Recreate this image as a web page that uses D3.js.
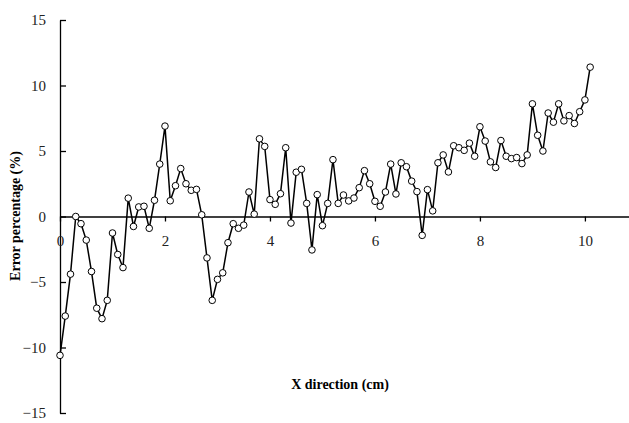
<!DOCTYPE html>
<html><head><meta charset="utf-8">
<script src="https://cdn.jsdelivr.net/npm/d3@7"></script>
<style>body{margin:0;background:#fff}text{font-family:"Liberation Serif","Times New Roman",serif}</style>
</head><body><svg id="c" width="629" height="423"></svg>
<script>
const xStart = 0, xStep = 0.1;
const errorPct = [
  -10.6, -7.6, -4.4, 0, -0.55, -1.8, -4.2, -7.0, -7.8, -6.4,
  -1.26, -2.9, -3.9, 1.4, -0.76, 0.73, 0.78, -0.9, 1.24, 4.0,
  6.9, 1.2, 2.35, 3.66, 2.5, 2.0, 2.07, 0.13, -3.16, -6.4,
  -4.8, -4.3, -2.0, -0.55, -0.9, -0.66, 1.87, 0.18, 5.93, 5.35,
  1.29, 0.93, 1.74, 5.25, -0.5, 3.38, 3.6, 1.0, -2.55, 1.67,
  -0.7, 1.0, 4.34, 1.0, 1.64, 1.19, 1.41, 2.2, 3.5, 2.5,
  1.16, 0.78, 1.87, 4.0, 1.72, 4.1, 3.8, 2.7, 1.9, -1.44,
  2.05, 0.43, 4.1, 4.7, 3.4, 5.4, 5.25, 5.05, 5.6, 4.6,
  6.85, 5.76, 4.17, 3.74, 5.8, 4.6, 4.42, 4.5, 4.04, 4.7,
  8.6, 6.2, 5.0, 7.9, 7.2, 8.6, 7.3, 7.7, 7.1, 8.0,
  8.9, 11.4
];
const xTicks = [0, 2, 4, 6, 8, 10];
const yTicks = [-15, -10, -5, 0, 5, 10, 15];
const data = errorPct.map((v, i) => ({x: +(xStart + i * xStep).toFixed(2), y: v}));

const svg = d3.select('#c');
const x = d3.scaleLinear().domain([0, 10.84]).range([60, 629]);
const y = d3.scaleLinear().domain([-15, 15]).range([413, 20]);

// y axis, ticks point inward
svg.append('g')
  .attr('transform', 'translate(60,0)')
  .call(d3.axisLeft(y).tickValues(yTicks).tickSizeInner(-6).tickSizeOuter(0).tickPadding(14))
  .call(g => g.selectAll('text').attr('font-size', 15).attr('fill', '#222'))
  .call(g => g.selectAll('line,path').attr('stroke', '#000').attr('stroke-width', 1.3));

// x axis at zero
svg.append('g')
  .attr('transform', `translate(0,${y(0)})`)
  .call(d3.axisBottom(x).tickValues(xTicks).tickSize(5).tickSizeOuter(0).tickPadding(14))
  .call(g => g.selectAll('text').attr('font-size', 15).attr('fill', '#222'))
  .call(g => g.selectAll('line,path').attr('stroke', '#000').attr('stroke-width', 1.3));

svg.append('path')
  .datum(data)
  .attr('fill', 'none').attr('stroke', '#000').attr('stroke-width', 1.5)
  .attr('d', d3.line().x(d => x(d.x)).y(d => y(d.y)));

svg.selectAll('.pt').data(data).enter().append('circle')
  .attr('class', 'pt')
  .attr('cx', d => x(d.x)).attr('cy', d => y(d.y)).attr('r', 3.3)
  .attr('fill', '#fff').attr('stroke', '#000').attr('stroke-width', 1);

svg.append('text').attr('x', 340).attr('y', 389).attr('text-anchor', 'middle')
  .attr('font-size', 14).attr('font-weight', 'bold').text('X direction (cm)');
svg.append('text').attr('transform', 'translate(20,216) rotate(-90)').attr('text-anchor', 'middle')
  .attr('font-size', 14).attr('font-weight', 'bold').text('Error percentage (%)');
</script></body></html>
